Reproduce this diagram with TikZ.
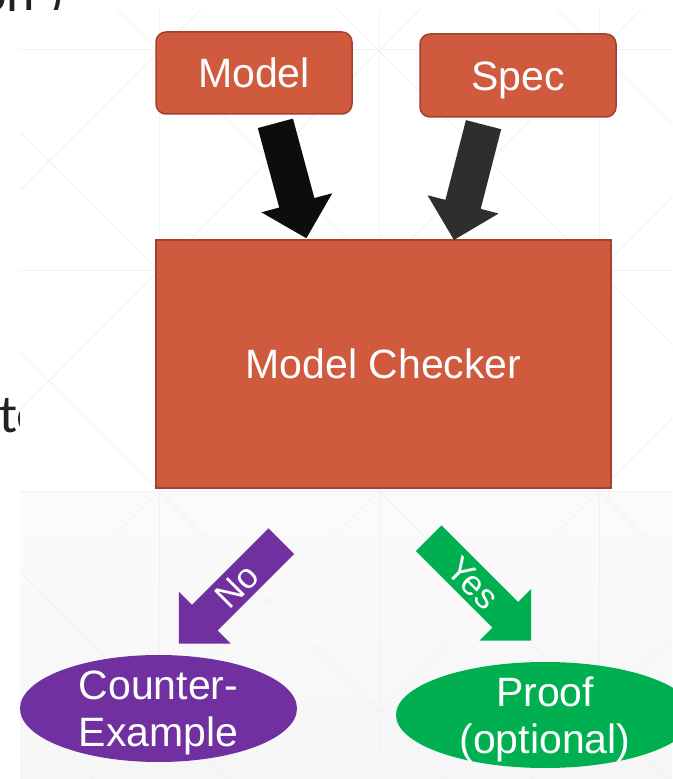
\documentclass[tikz,border=0pt]{standalone}
\usepackage{fontspec}
\setmainfont{Liberation Sans}
\newfontfamily\slidefont{Carlito}
\usetikzlibrary{shapes.geometric,shapes.arrows}
\definecolor{boxfill}{RGB}{208,90,62}
\definecolor{boxline}{RGB}{160,66,44}
\definecolor{nopurple}{RGB}{112,48,160}
\definecolor{yesgreen}{RGB}{0,176,80}
\definecolor{gridline}{RGB}{242,242,242}
\definecolor{darktext}{RGB}{34,34,34}
\definecolor{arrowblack}{RGB}{13,13,13}
\definecolor{arrowgray}{RGB}{46,46,46}
\tikzset{
  box/.style={draw=boxline, fill=boxfill, line width=1.5pt, text=white,
    font=\fontsize{41}{48}\selectfont, text height=29.5pt, text depth=0pt, inner sep=0pt},
  blockarrow/.style={single arrow, single arrow head extend=18.5pt,
    minimum height=#1, inner ysep=18pt, inner xsep=0pt, draw=none},
  labelarrow/.style={text=white, font=\fontsize{35}{40}\selectfont,
    text height=25pt, text depth=0pt, inner ysep=5.5pt},
  resultoval/.style={ellipse, inner sep=0pt, draw=none},
  resulttext/.style={text=white, align=center, font=\fontsize{41}{47}\selectfont,
    text depth=0pt, inner sep=0pt},
  fragment/.style={anchor=base west, inner sep=0pt, text=darktext,
    font=\slidefont\fontsize{54}{60}\selectfont},
  bgline/.style={gridline, line width=1pt}
}
\begin{document}
\begin{tikzpicture}[x=1pt,y=1pt]
\useasboundingbox (0,0) rectangle (672,779);
% slide text fragments behind the panel
\node[fragment] (frag1) at (-1,346) {te};
\node[fragment] (frag2) at (-22,767) {on\hspace{14pt})};
% background panel
\fill[white] (20,0) rectangle (672,769);
\shade[top color=white!98.5!black, bottom color=white!96.5!black] (20,0) rectangle (672,287);
\begin{scope}
  \clip (20,0) rectangle (672,769);
  \foreach \gx in {159,379,599} \draw[bgline] (\gx,0) -- (\gx,779);
  \foreach \gy in {729,508,287,67} \draw[bgline] (0,\gy) -- (672,\gy);
  \foreach \k in {-4,...,4} {
    \draw[bgline] (-100,767+220*\k) -- (800,-133+220*\k);
    \draw[bgline] (-100,249+220*\k) -- (800,1149+220*\k);
  }
\end{scope}
% boxes
\node[box, rounded corners=10pt, minimum width=196pt, minimum height=82pt] (model) at (254,706) {Model};
\node[box, rounded corners=10pt, minimum width=196pt, minimum height=83pt] (spec) at (518,703.5) {Spec};
\node[box, minimum width=455pt, minimum height=248pt] (checker) at (383.5,415) {Model Checker};
% input arrows
\node[blockarrow=119pt, fill=arrowblack, rotate=-74.9] (inmodel) at (288.5,607) {};
\node[blockarrow=119pt, fill=arrowgray, rotate=-104.4] (inspec) at (471,605.5) {};
% result arrows
\node[blockarrow=145pt, labelarrow, fill=nopurple, rotate=45, shape border rotate=180] (noarrow) at (236.5,193) {No};
\node[blockarrow=145pt, labelarrow, fill=yesgreen, rotate=-45] (yesarrow) at (473.5,196) {Yes};
% results
\node[resultoval, fill=nopurple, minimum width=277pt, minimum height=107pt] (cex) at (158.5,70.5) {};
\node[resulttext] (cextext) at (cex.center) {Counter-\\Example};
\node[resultoval, fill=yesgreen, minimum width=298pt, minimum height=106pt] (proof) at (545,64) {};
\node[resulttext] (prooftext) at (proof.center) {Proof\\(optional)};
\end{tikzpicture}
\end{document}
